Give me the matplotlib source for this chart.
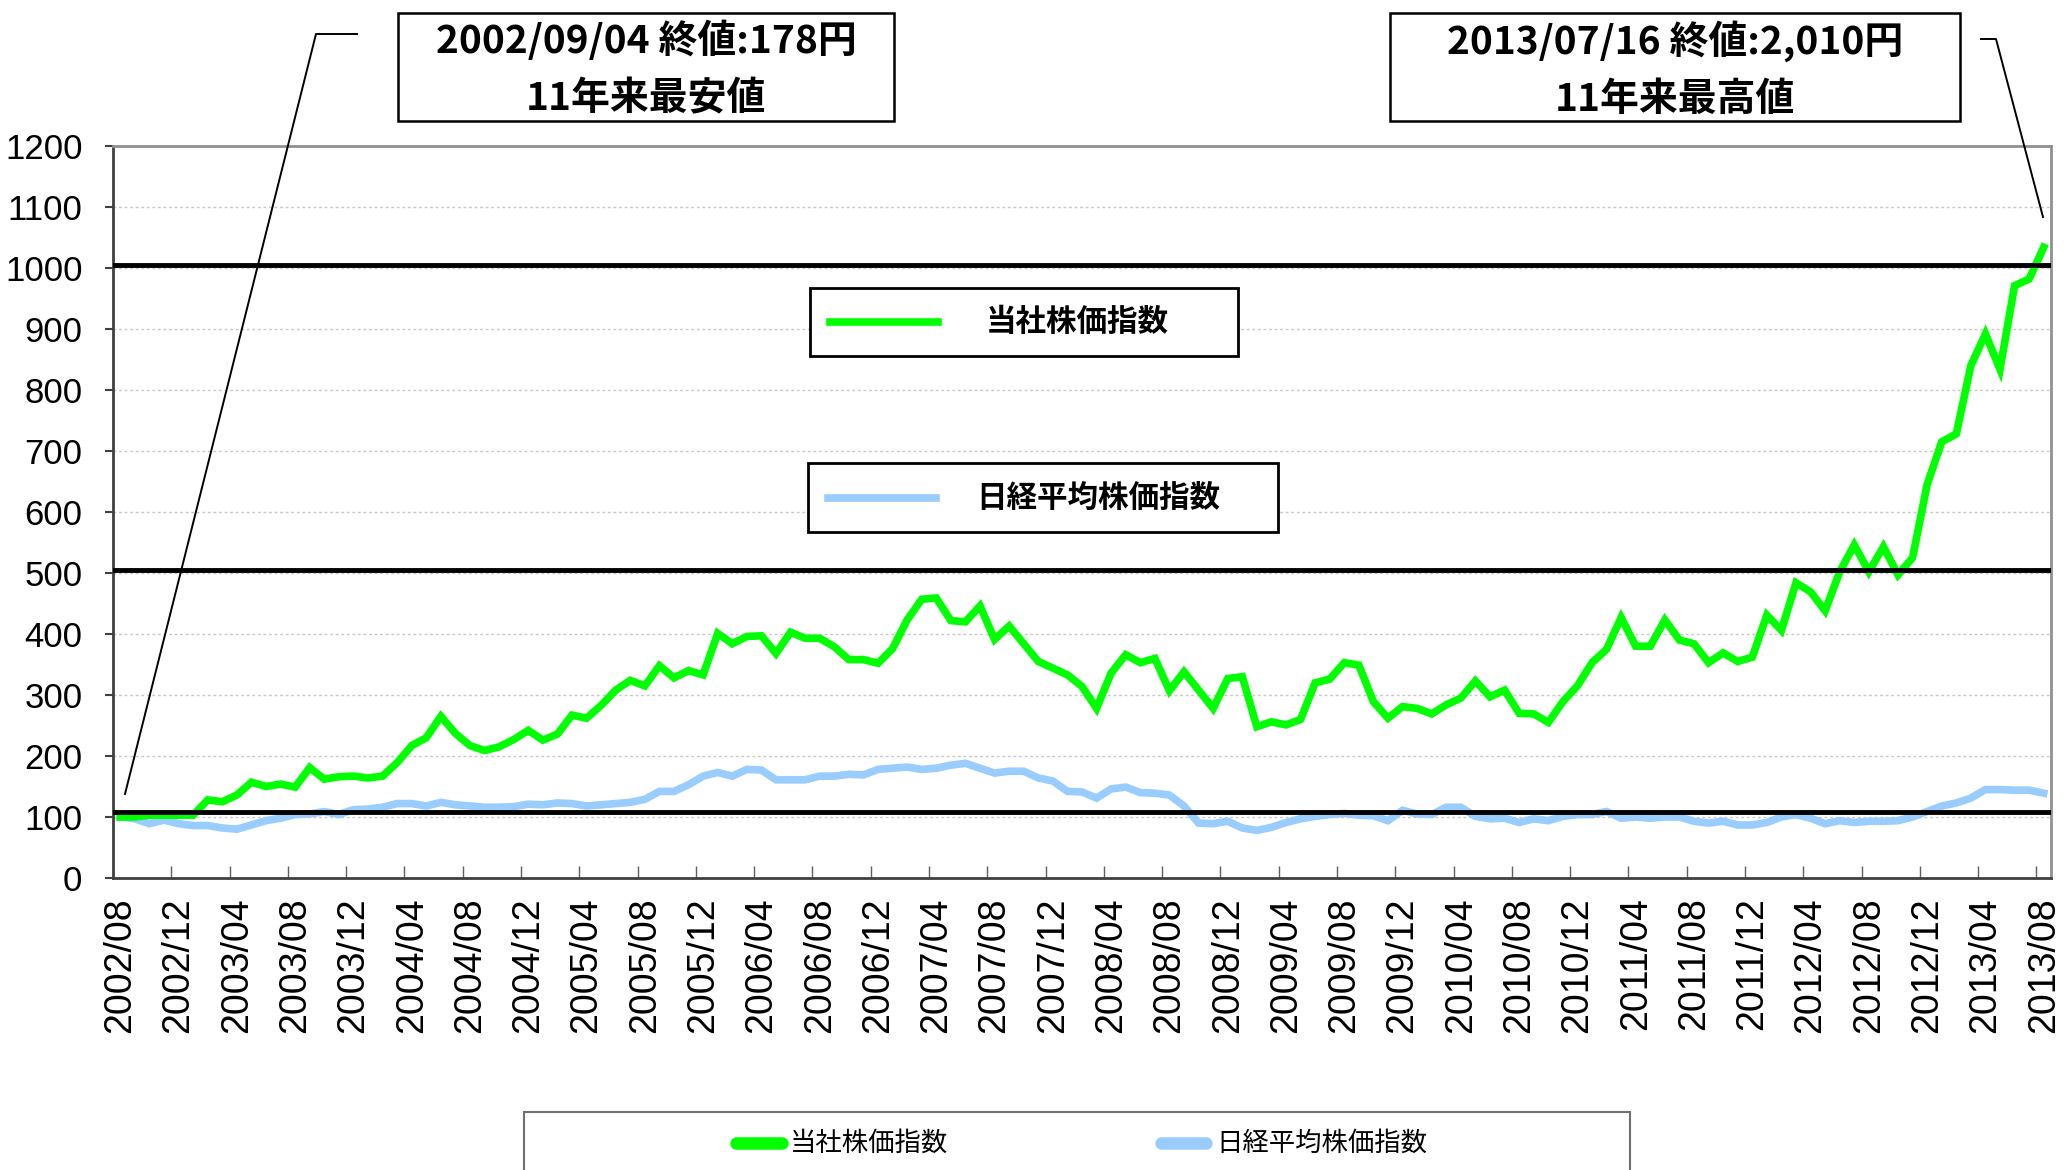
import matplotlib
matplotlib.use("Agg")
import matplotlib.pyplot as plt
from matplotlib.lines import Line2D
from matplotlib.patches import Rectangle
import numpy as np
import pandas as pd

# -------------------------------
# data (index, 2002/08 = 100)
# -------------------------------
months = pd.period_range("2002-08", "2013-08", freq="M").strftime("%Y/%m").tolist()

company = [100, 100, 103, 103, 103, 103, 128, 125, 136, 157,
           150, 154, 149, 181, 162, 166, 167, 164, 167, 189,
           217, 230, 265, 237, 217, 209, 215, 227, 242, 226,
           236, 267, 262, 283, 308, 324, 315, 348, 328, 340,
           333, 401, 384, 396, 397, 368, 403, 393, 393, 379,
           358, 358, 352, 376, 423, 457, 459, 422, 420, 446,
           391, 413, 384, 355, 344, 333, 314, 278, 336, 366,
           353, 360, 307, 338, 308, 278, 327, 330, 248, 256,
           251, 260, 320, 326, 353, 349, 289, 262, 281, 278,
           269, 284, 295, 323, 297, 308, 270, 269, 255, 289,
           315, 353, 375, 427, 380, 380, 423, 390, 384, 353,
           369, 355, 362, 431, 406, 484, 469, 438, 502, 546,
           502, 543, 497, 525, 645, 715, 728, 840, 892, 834,
           971, 982, 1034]

nikkei = [100, 97, 89, 95, 89, 86, 86, 82, 80, 87,
          94, 98, 104, 105, 109, 104, 112, 113, 116, 122,
          122, 118, 124, 120, 118, 116, 116, 117, 121, 120,
          123, 122, 118, 120, 122, 124, 129, 142, 142, 153,
          167, 173, 167, 178, 177, 161, 161, 161, 167, 167,
          170, 169, 178, 180, 182, 178, 180, 185, 188, 180,
          172, 175, 175, 164, 159, 142, 141, 131, 146, 149,
          140, 139, 136, 118, 90, 89, 93, 82, 78, 83,
          91, 97, 101, 104, 106, 103, 102, 94, 111, 105,
          104, 116, 116, 101, 97, 98, 91, 97, 94, 101,
          104, 104, 109, 98, 100, 98, 100, 100, 93, 90,
          93, 87, 87, 91, 100, 104, 98, 89, 94, 91,
          93, 93, 94, 100, 109, 118, 123, 131, 145, 145,
          144, 144, 139]

ref_levels = [108, 505, 1005]   # black reference lines

label_company = "当社株価指数"
label_nikkei = "日経平均株価指数"
note_low = "2002/09/04 終値:178円\n11年来最安値"
note_high = "2013/07/16 終値:2,010円\n11年来最高値"

GREEN = "#00ff00"
BLUE = "#99ccff"
jp = ["Noto Sans CJK JP", "DejaVu Sans"]

W, H = 2064, 1170
fig = plt.figure(figsize=(W / 100, H / 100), dpi=100)


def fx(px):
    return px / W


def fy(py):
    return 1 - py / H


ax = fig.add_axes([fx(113), fy(878), fx(2051) - fx(113), fy(146) - fy(878)])

x = np.arange(len(months))
ax.plot(x, nikkei, color=BLUE, lw=5.5, solid_joinstyle="miter", zorder=3)
ax.plot(x, company, color=GREEN, lw=5.5, solid_joinstyle="miter", zorder=4)
for lv in ref_levels:
    ax.axhline(lv, color="black", lw=3.5, zorder=5)

ax.set_xlim(-0.5, len(months) - 0.5)
ax.set_ylim(0, 1200)
ax.set_yticks(np.arange(0, 1201, 100))
ax.grid(axis="y", color="#c8c8c8", lw=1, linestyle=(0, (2, 2)), zorder=0)

ax.set_xticks(x[::4])
ax.set_xticklabels(months[::4], rotation=90, family="Liberation Sans", fontsize=27)
ax.set_xticks(x[::4][1:] - 0.5, minor=True)
ax.tick_params(axis="x", which="major", length=0, pad=14)
ax.tick_params(axis="x", which="minor", direction="in", length=9, width=1, color="#606060")
ax.tick_params(axis="y", direction="out", length=6, width=1.5, color="#404040", pad=16)
for t in ax.get_yticklabels():
    t.set_family("Liberation Sans")
    t.set_fontsize(25)

for s in ["top", "right"]:
    ax.spines[s].set_color("#909090")
    ax.spines[s].set_linewidth(2)
for s in ["left", "bottom"]:
    ax.spines[s].set_color("#404040")
    ax.spines[s].set_linewidth(2)

# annotation boxes at the top
for (x0, x1), txt in [((398, 894), note_low), ((1390, 1960), note_high)]:
    fig.patches.append(Rectangle((fx(x0), fy(121)), fx(x1) - fx(x0), fy(13) - fy(121),
                                 transform=fig.transFigure, fill=False, ec="black", lw=1.8))
    l1, l2 = txt.split("\n")
    cx = fx((x0 + x1) / 2)
    fig.text(cx, fy(41), l1, ha="center", va="center", family=jp, fontsize=28, weight="bold")
    fig.text(cx, fy(99), l2, ha="center", va="center", family=jp, fontsize=28, weight="bold")

# leader lines
fig.add_artist(Line2D([fx(357), fx(316), fx(125)], [fy(34), fy(34), fy(794)],
                      transform=fig.transFigure, color="black", lw=1.4))
fig.add_artist(Line2D([fx(1981), fx(1996), fx(2043)], [fy(39), fy(39), fy(217)],
                      transform=fig.transFigure, color="black", lw=1.4))

# legend boxes inside plot
for (x0, x1, y0, y1), col, lab, tx in [((810, 1238, 288, 356), GREEN, label_company, 1077),
                                      ((808, 1278, 463, 532), BLUE, label_nikkei, 1098)]:
    fig.patches.append(Rectangle((fx(x0), fy(y1)), fx(x1) - fx(x0), fy(y0) - fy(y1),
                                 transform=fig.transFigure, fc="white", ec="black", lw=2, zorder=6))
    ym = (y0 + y1) / 2
    fig.add_artist(Line2D([fx(x0 + 20), fx(x0 + 128)], [fy(ym), fy(ym)],
                          transform=fig.transFigure, color=col, lw=5.5, zorder=7))
    fig.text(fx(tx), fy(ym), lab, ha="center", va="center", family=jp,
             fontsize=22, weight="bold", zorder=7)

# bottom legend
fig.patches.append(Rectangle((fx(524), fy(1175)), fx(1630) - fx(524), fy(1112) - fy(1175),
                             transform=fig.transFigure, fill=False, ec="#707070", lw=1.5))
for (m0, m1, t0), col, lab in [((731, 787, 790), GREEN, label_company),
                               ((1156, 1211, 1216), BLUE, label_nikkei)]:
    fig.add_artist(Line2D([fx(m0 + 5), fx(m1 - 5)], [fy(1143), fy(1143)],
                          transform=fig.transFigure, color=col, lw=9, solid_capstyle="round"))
    fig.text(fx(t0), fy(1143), lab, ha="left", va="center", family=jp, fontsize=19)

fig.savefig("out.png", dpi=100)
